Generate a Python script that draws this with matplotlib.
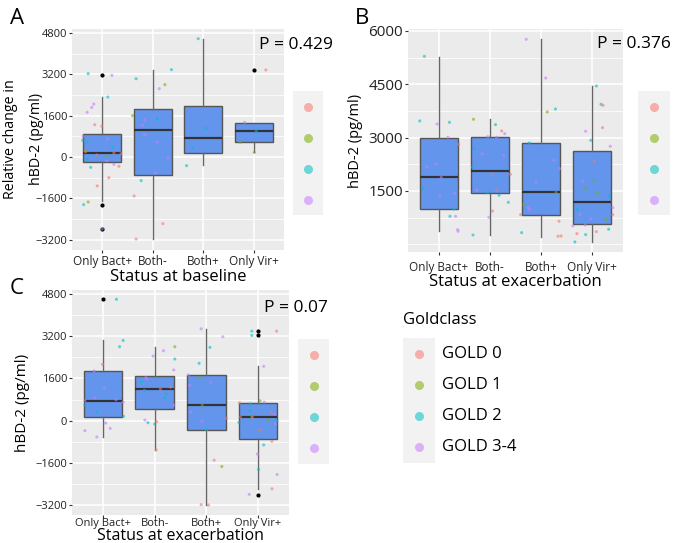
import matplotlib
matplotlib.use("Agg")
import matplotlib.pyplot as plt

plt.rcParams['font.family'] = ['Open Sans', 'DejaVu Sans']

W, H = 685, 543

categories = ["Only Bact+", "Both-", "Both+", "Only Vir+"]
gold_labels = ["GOLD 0", "GOLD 1", "GOLD 2", "GOLD 3-4"]
gold_colors = ["#F8766D", "#7CAE00", "#00BFC4", "#C77CFF"]

# ---- panel A: relative change, status at baseline
a_q1 = [-180, -697, 155, 568]
a_med = [155, 1045, 735, 994]
a_q3 = [877, 1858, 1974, 1316]
a_lo = [-1715, -3175, -323, 180]
a_hi = [2320, 3380, 4580, 1316]
a_fliers = [[3187, -1845, -2790], [], [], [3370]]
# (category, jitter, value, gold class)
a_pts = [
    (0, -0.28, 3226, 2), (0, 0.19, 3160, 3), (0, 0.11, 2320, 2), (0, -0.17, 2050, 3),
    (0, -0.21, 1920, 3), (0, -0.30, 1730, 3), (0, -0.15, 1250, 0), (0, -0.01, 1190, 0),
    (0, -0.38, 800, 3), (0, -0.39, 645, 2), (0, -0.30, 580, 2), (0, 0.10, 700, 3),
    (0, 0.20, 375, 2), (0, -0.33, 260, 1), (0, -0.33, 200, 0), (0, -0.11, 77, 0),
    (0, 0.09, 25, 1), (0, 0.37, 130, 0), (0, 0.23, 155, 0), (0, -0.30, -100, 2),
    (0, 0.09, -155, 3), (0, 0.23, -284, 3), (0, 0.33, -360, 0), (0, -0.23, -400, 2),
    (0, 0.13, -800, 0), (0, -0.10, -1120, 0), (0, -0.28, -1740, 1), (0, -0.37, -1845, 2),
    (0, 0.0, -2790, 3),
    (1, 0.37, 3380, 2), (1, -0.33, 3030, 2), (1, 0.24, 2800, 1), (1, 0.13, 2645, 3),
    (1, -0.40, 1600, 1), (1, -0.16, 1445, 3), (1, 0.09, 1470, 2), (1, -0.21, 1225, 3),
    (1, -0.16, 865, 3), (1, 0.09, 568, 3), (1, 0.30, -40, 3), (1, 0.05, -620, 3),
    (1, -0.23, -915, 2), (1, -0.37, -1510, 0), (1, 0.20, -2580, 0), (1, -0.33, -3175, 0),
    (2, -0.10, 4580, 2), (2, 0.05, 1120, 2), (2, -0.20, 335, 2), (2, -0.33, -335, 2),
    (3, 0.24, 3370, 0), (3, -0.18, 1340, 3), (3, 0.05, 995, 2), (3, -0.27, 570, 1),
    (3, 0.01, 180, 1),
]

# ---- panel B: hBD-2 at exacerbation
b_q1 = [1003, 1444, 834, 581]
b_med = [1894, 2062, 1472, 1181]
b_q3 = [3000, 3009, 2841, 2634]
b_lo = [375, 272, 206, 75]
b_hi = [5269, 3516, 5766, 4444]
b_fliers = [[], [], [], []]
b_pts = [
    (0, -0.28, 5287, 2), (0, -0.37, 3469, 2), (0, -0.03, 3384, 3), (0, 0.21, 3431, 2),
    (0, 0.18, 3009, 3), (0, 0.39, 2812, 0), (0, -0.06, 2259, 3), (0, -0.23, 2184, 3),
    (0, 0.05, 1884, 3), (0, -0.31, 1566, 2), (0, 0.02, 1369, 3), (0, 0.31, 1425, 3),
    (0, 0.30, 994, 2), (0, 0.22, 787, 2), (0, 0.33, 787, 3), (0, 0.37, 412, 3),
    (0, 0.38, 366, 3),
    (1, -0.32, 3516, 1), (1, 0.11, 3366, 2), (1, 0.23, 3187, 0), (1, 0.29, 3112, 3),
    (1, -0.04, 3028, 3), (1, 0.13, 3009, 3), (1, -0.30, 2681, 2), (1, -0.15, 2550, 3),
    (1, 0.27, 2503, 3), (1, 0.05, 1969, 0), (1, 0.40, 1969, 0), (1, -0.34, 2175, 2),
    (1, -0.26, 1519, 3), (1, 0.13, 1519, 0), (1, -0.05, 1462, 2), (1, 0.18, 1378, 2),
    (1, 0.36, 1181, 2), (1, 0.05, 937, 0), (1, -0.02, 759, 3), (1, -0.33, 262, 2),
    (2, -0.29, 5766, 3), (2, 0.09, 4678, 3), (2, 0.12, 3722, 1), (2, 0.28, 3806, 2),
    (2, -0.23, 2850, 2), (2, 0.25, 2362, 3), (2, 0.36, 2128, 3), (2, -0.10, 1744, 3),
    (2, 0.29, 1462, 1), (2, -0.34, 1116, 1), (2, -0.25, 1031, 3), (2, -0.22, 984, 3),
    (2, -0.40, 834, 0), (2, 0.35, 647, 0), (2, -0.38, 328, 2), (2, 0.33, 225, 0),
    (2, 0.39, 234, 0),
    (3, 0.08, 4453, 2), (3, 0.17, 3937, 2), (3, 0.21, 3909, 0), (3, 0.20, 3281, 0),
    (3, -0.13, 3178, 3), (3, -0.03, 2925, 2), (3, 0.35, 2756, 3), (3, 0.04, 2334, 0),
    (3, -0.19, 1772, 3), (3, 0.04, 1791, 1), (3, -0.14, 1584, 1), (3, 0.10, 1444, 1),
    (3, 0.33, 1350, 2), (3, -0.29, 975, 2), (3, 0.40, 1031, 3), (3, 0.40, 834, 0),
    (3, -0.24, 844, 3), (3, -0.03, 712, 3), (3, 0.27, 703, 1), (3, -0.14, 544, 3),
    (3, -0.38, 516, 3), (3, -0.30, 300, 0), (3, 0.32, 422, 2), (3, 0.08, 356, 0),
    (3, -0.13, 272, 2), (3, -0.34, 66, 2),
]

# ---- panel C: hBD-2 change, status at exacerbation
c_q1 = [151, 440, -339, -691]
c_med = [754, 1194, 591, 126]
c_q3 = [1872, 1696, 1734, 679]
c_lo = [-616, -1106, -3192, -2576]
c_hi = [3041, 2790, 3468, 2061]
c_fliers = [[4599], [], [], [3393, 3229, -2802]]
c_pts = [
    (0, 0.26, 4599, 2), (0, 0.39, 3041, 2), (0, 0.32, 2802, 2), (0, -0.01, 2136, 0),
    (0, -0.17, 1885, 3), (0, 0.03, 1231, 3), (0, -0.15, 867, 3), (0, 0.25, 792, 3),
    (0, -0.35, 754, 3), (0, 0.39, 704, 3), (0, -0.35, 591, 2), (0, -0.12, 339, 2),
    (0, 0.40, 163, 2), (0, 0.05, -88, 3), (0, 0.14, -289, 3), (0, -0.35, -377, 3),
    (0, -0.12, -616, 3),
    (1, 0.39, 2802, 1), (1, 0.17, 2651, 3), (1, -0.03, 2450, 3), (1, 0.39, 2337, 2),
    (1, 0.37, 1922, 3), (1, -0.17, 1634, 3), (1, -0.15, 1571, 3), (1, -0.25, 1470, 2),
    (1, 0.11, 1194, 0), (1, 0.31, 1269, 0), (1, -0.20, 1156, 2), (1, 0.23, 1005, 2),
    (1, 0.19, 867, 2), (1, 0.37, 591, 3), (1, -0.19, 25, 3), (1, -0.13, -75, 2),
    (1, 0.04, -38, 0), (1, 0.0, -126, 2), (1, 0.03, -1106, 0),
    (2, -0.10, 3480, 3), (2, 0.32, 3179, 3), (2, 0.07, 2777, 2), (2, -0.14, 2174, 2),
    (2, -0.35, 1734, 3), (2, -0.12, 1621, 1), (2, 0.08, 1458, 3), (2, -0.32, 1332, 3),
    (2, -0.08, 591, 1), (2, -0.30, 327, 3), (2, -0.09, -25, 3), (2, 0.39, 101, 0),
    (2, 0.0, -339, 2), (2, 0.15, -1495, 0), (2, 0.30, -1734, 1), (2, -0.10, -3179, 0),
    (2, 0.04, -3192, 0),
    (3, -0.12, 3393, 2), (3, 0.36, 3393, 0), (3, -0.12, 3229, 2), (3, 0.11, 2061, 3),
    (3, 0.04, 754, 1), (3, 0.12, 704, 3), (3, -0.36, 679, 0), (3, -0.15, 641, 2),
    (3, -0.15, 377, 2), (3, 0.26, 302, 0), (3, -0.12, 176, 1), (3, -0.34, 138, 0),
    (3, -0.11, 126, 0), (3, 0.32, 251, 3), (3, 0.20, 25, 1), (3, 0.37, -13, 2),
    (3, 0.34, -126, 3), (3, -0.37, -63, 2), (3, 0.03, -352, 0), (3, 0.27, -779, 0),
    (3, 0.11, -917, 2), (3, -0.01, -1257, 3), (3, 0.01, -1847, 2), (3, 0.37, -2036, 3),
    (3, 0.27, -2576, 0), (3, -0.17, -2790, 3),
]

p_values = ["P = 0.429", "P = 0.376", "P = 0.07"]


def box_px(left, top, right, bottom):
    return [left / W, 1 - bottom / H, (right - left) / W, (bottom - top) / H]


def draw_panel(ax, q1, med, q3, lo, hi, fliers, pts, ylim, major, minor,
               ytick_size):
    ax.set_facecolor("#EBEBEB")
    for s in ax.spines.values():
        s.set_visible(False)
    stats = []
    for i in range(4):
        stats.append({"q1": q1[i], "med": med[i], "q3": q3[i], "whislo": lo[i],
                      "whishi": hi[i], "fliers": fliers[i]})
    ax.bxp(stats, positions=[1, 2, 3, 4], widths=0.75, patch_artist=True,
           showcaps=False,
           boxprops=dict(facecolor="#6495ED", edgecolor="#555555", linewidth=1.0),
           medianprops=dict(color="#333333", linewidth=1.6),
           whiskerprops=dict(color="#666666", linewidth=1.0),
           flierprops=dict(marker="o", markersize=2.0, markerfacecolor="black",
                           markeredgecolor="black"),
           zorder=2)
    xs = [p[0] + 1 + p[1] for p in pts]
    ys = [p[2] for p in pts]
    cs = [gold_colors[p[3]] for p in pts]
    ax.scatter(xs, ys, s=5, c=cs, alpha=0.6, linewidths=0, zorder=3)
    ax.set_xlim(0.4, 4.6)
    ax.set_ylim(*ylim)
    ax.set_yticks(major)
    ax.set_yticks(minor, minor=True)
    ax.set_xticks([1, 2, 3, 4])
    ax.set_xticklabels(categories)
    ax.grid(which="major", color="white", linewidth=1.1, zorder=0)
    ax.grid(which="minor", axis="y", color="white", linewidth=0.55, zorder=0)
    ax.set_axisbelow(True)
    ax.tick_params(which="major", length=2.5, width=0.8, color="#333333",
                   labelcolor="#222222", pad=1)
    ax.tick_params(which="minor", length=0)
    ax.tick_params(axis="x", labelsize=8.5)
    ax.tick_params(axis="y", labelsize=ytick_size)


def key_box(rect):
    k = fig.add_axes(rect)
    k.set_facecolor("#F2F2F2")
    for s in k.spines.values():
        s.set_visible(False)
    k.set_xticks([])
    k.set_yticks([])
    k.set_xlim(0, 1)
    k.set_ylim(0, 1)
    for i, col in enumerate(gold_colors):
        k.plot(0.5, 0.875 - 0.25 * i, "o", color=col, alpha=0.55,
               markersize=6.5, markeredgewidth=0)
    return k


fig = plt.figure(figsize=(W / 100, H / 100), dpi=100)

ax_a = fig.add_axes(box_px(72, 29, 284, 250))
draw_panel(ax_a, a_q1, a_med, a_q3, a_lo, a_hi, a_fliers, a_pts, (-3600, 4955),
           [-3200, -1600, 0, 1600, 3200, 4800], [-2400, -800, 800, 2400, 4000], 8)
ax_a.set_xlabel("Status at baseline", fontsize=12, labelpad=1)
# two-line y label, placed line by line
fig.text(11 / W, 1 - 139 / H, "Relative change in", fontsize=10.3, rotation=90,
         ha="center", va="center")
fig.text(36 / W, 1 - 139 / H, "hBD-2 (pg/ml)", fontsize=10.3, rotation=90,
         ha="center", va="center")

ax_b = fig.add_axes(box_px(408, 29, 623, 252))
draw_panel(ax_b, b_q1, b_med, b_q3, b_lo, b_hi, b_fliers, b_pts, (-217, 6056),
           [1500, 3000, 4500, 6000], [0, 750, 2250, 3750, 5250], 11)
ax_b.tick_params(axis="x", pad=4)
ax_b.set_xlabel("Status at exacerbation", fontsize=12, labelpad=0)
ax_b.set_ylabel("hBD-2 (pg/ml)", fontsize=10.5, labelpad=4)

ax_c = fig.add_axes(box_px(72, 290, 289, 515))
draw_panel(ax_c, c_q1, c_med, c_q3, c_lo, c_hi, c_fliers, c_pts, (-3570, 4950),
           [-3200, -1600, 0, 1600, 3200, 4800], [-2400, -800, 800, 2400, 4000], 8)
ax_c.tick_params(axis="x", pad=0, labelsize=8)
ax_c.set_ylabel("hBD-2 (pg/ml)", fontsize=11, labelpad=4)
# x label of C sits tight against the bottom edge, as in the original
fig.text(180 / W, 1 - 535.5 / H, "Status at exacerbation", fontsize=11.5,
         ha="center", va="center")

# p values
fig.text(259 / W, 1 - 45 / H, p_values[0], fontsize=12.5, va="center", ha="left")
fig.text(597 / W, 1 - 44 / H, p_values[1], fontsize=12.5, va="center", ha="left")
fig.text(264 / W, 1 - 308 / H, p_values[2], fontsize=12.5, va="center", ha="left")

# panel letters
fig.text(17 / W, 1 - 19 / H, "A", fontsize=16, va="center", ha="center")
fig.text(362 / W, 1 - 19 / H, "B", fontsize=16, va="center", ha="center")
fig.text(17 / W, 1 - 288 / H, "C", fontsize=16, va="center", ha="center")

# unlabeled legend keys next to each panel
key_box(box_px(293, 91, 323, 215))
key_box(box_px(638, 91, 670, 215))
key_box(box_px(298, 339, 329, 464))

# shared legend
key_box(box_px(403, 338, 435, 463))
fig.text(403 / W, 1 - 320 / H, "Goldclass", fontsize=12, va="center", ha="left")
for i, lab in enumerate(gold_labels):
    fig.text(442 / W, 1 - (353.5 + 31.2 * i) / H, lab, fontsize=12,
             va="center", ha="left")

fig.savefig("out.png", dpi=100)
